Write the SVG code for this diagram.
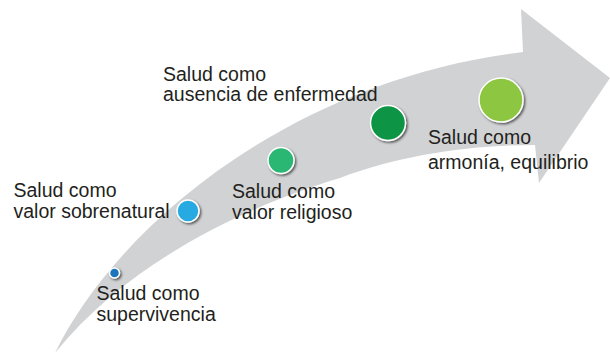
<svg xmlns="http://www.w3.org/2000/svg" width="610" height="355" viewBox="0 0 610 355">
  <defs>
    <filter id="sh" x="-50%" y="-50%" width="200%" height="200%">
      <feDropShadow dx="1.5" dy="1.5" stdDeviation="1" flood-color="#000" flood-opacity="0.6"/>
    </filter>
  </defs>
  <style>
    .lbl { font-family: "Liberation Sans", Arial, sans-serif; font-size: 19.5px; fill: #231f20; }
    .dot { stroke: #ffffff; stroke-width: 1.5; filter: url(#sh); }
  </style>
  <rect width="610" height="355" fill="#ffffff"/>
  <g id="connectors">
    <path d="M55,353 C120,220 300,78 523,52 L521,9 L610,78 L539,183 L535,145 C470,145 400,155 340,178 C250,205 130,260 55,353 Z" fill="#d1d2d4"/>
  </g>
  <g id="node-supervivencia">
    <circle class="dot" cx="114.5" cy="273" r="5" fill="#1b75bc"/>
    <text class="lbl" x="96.5" y="300">Salud como</text>
    <text class="lbl" x="96.5" y="320.5">supervivencia</text>
  </g>
  <g id="node-sobrenatural">
    <circle class="dot" cx="188" cy="211" r="11" fill="#27aae1"/>
    <text class="lbl" x="13.5" y="197">Salud como</text>
    <text class="lbl" x="13.5" y="218">valor sobrenatural</text>
  </g>
  <g id="node-religioso">
    <circle class="dot" cx="281" cy="160.5" r="13" fill="#2bb673"/>
    <text class="lbl" x="232" y="198">Salud como</text>
    <text class="lbl" x="232" y="218.5">valor religioso</text>
  </g>
  <g id="node-enfermedad">
    <circle class="dot" cx="388" cy="123" r="17.5" fill="#0c9444"/>
    <text class="lbl" x="163" y="80.5">Salud como</text>
    <text class="lbl" x="163" y="101">ausencia de enfermedad</text>
  </g>
  <g id="node-armonia">
    <circle class="dot" cx="501" cy="100" r="22" fill="#8dc63f"/>
    <text class="lbl" x="428" y="144">Salud como</text>
    <text class="lbl" x="428" y="168.5">armonía, equilibrio</text>
  </g>
</svg>
